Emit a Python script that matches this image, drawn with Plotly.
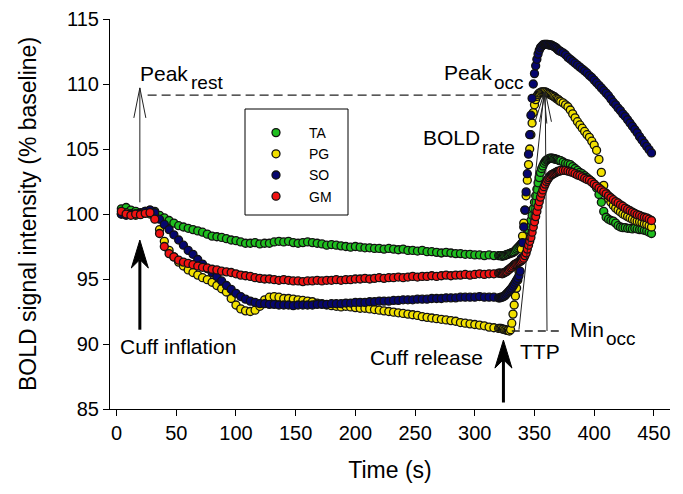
import math
import plotly.graph_objects as go

# ---------------- data ----------------
TIME = list(range(4, 321, 4)) + list(range(321, 373)) + list(range(374, 449, 2))

TA = [
    100.4, 100.5, 100.3, 100.2, 100.1, 100.2, 100.3, 100.2, 99.9, 99.7,
    99.5, 99.3, 99.1, 99.0, 98.9, 98.8, 98.7, 98.6, 98.45, 98.3,
    98.25, 98.2, 98.1, 98.0, 97.95, 97.85, 97.75, 97.75, 97.8, 97.7,
    97.75, 97.75, 97.85, 97.9, 97.85, 97.9, 97.8, 97.75, 97.8, 97.85,
    97.8, 97.75, 97.7, 97.6, 97.65, 97.6, 97.55, 97.5, 97.45, 97.5,
    97.45, 97.4, 97.4, 97.35, 97.35, 97.3, 97.35, 97.3, 97.25, 97.3,
    97.2, 97.2, 97.15, 97.2, 97.1, 97.1, 97.05, 97.0, 97.05, 97.0,
    96.95, 96.95, 96.9, 96.9, 96.85, 96.85, 96.8, 96.85, 96.8, 96.8,
    96.8, 96.8, 96.75, 96.8, 96.8, 96.85, 96.9, 96.9, 96.95, 97.0,
    97.0, 97.05, 97.1, 97.2, 97.3, 97.4, 97.5, 97.6, 97.7, 97.8,
    97.9, 98.0, 98.2, 98.5, 98.8, 99.1, 99.5, 99.9, 100.4, 100.9,
    101.4, 101.9, 102.4, 102.8, 103.2, 103.5, 103.7, 103.9, 104.05, 104.15,
    104.2, 104.25, 104.3, 104.3, 104.3, 104.25, 104.25, 104.2, 104.2, 104.15,
    104.1, 104.1,
    104.0, 103.9, 103.85, 103.8, 103.65, 103.5, 103.35, 103.2, 103.1, 102.95,
    102.8, 102.65, 102.5, 102.3, 102.0, 101.5, 100.9, 100.2, 99.75, 99.6,
    99.5, 99.45, 99.3, 99.1, 99.0, 98.95, 98.95, 98.9, 98.9, 98.85,
    98.9, 98.85, 98.8, 98.8, 98.75, 98.7, 98.6, 98.5,
]

PG = [
    100.0, 100.1, 100.0, 99.9, 100.0, 100.1, 100.0, 99.8, 98.8, 97.9,
    97.2, 96.7, 96.3, 96.0, 95.7, 95.5, 95.3, 95.1, 94.95, 94.75,
    94.5, 94.25, 94.0, 93.5, 93.0, 92.7, 92.55, 92.5, 92.6, 92.9,
    93.4, 93.6, 93.65, 93.6, 93.5, 93.5, 93.45, 93.4, 93.35, 93.3,
    93.25, 93.15, 93.1, 93.0, 92.95, 92.9, 92.85, 92.9, 92.85, 92.8,
    92.75, 92.75, 92.7, 92.65, 92.6, 92.55, 92.5, 92.45, 92.4, 92.35,
    92.3, 92.25, 92.2, 92.1, 92.05, 92.0, 91.95, 91.9, 91.85, 91.8,
    91.75, 91.65, 91.6, 91.55, 91.5, 91.45, 91.4, 91.3, 91.25, 91.2,
    91.2, 91.2, 91.15, 91.15, 91.1, 91.1, 91.05, 91.05, 91.0, 91.1,
    91.6, 92.3, 93.0, 93.7, 94.3, 94.9, 95.6, 96.4, 97.3, 98.3,
    99.3, 100.3, 101.4, 102.6, 103.8, 105.0, 106.1, 107.0, 107.8, 108.4,
    108.8, 109.05, 109.2, 109.3, 109.35, 109.4, 109.4, 109.4, 109.4, 109.35,
    109.3, 109.25, 109.2, 109.15, 109.1, 109.05, 109.0, 108.9, 108.85, 108.8,
    108.7, 108.65,
    108.55, 108.4, 108.25, 108.0, 107.7, 107.4, 107.1, 106.85, 106.6, 106.35,
    106.1, 105.9, 105.6, 105.3, 104.9, 104.2, 103.2, 102.2, 101.6, 101.2,
    100.9, 100.65, 100.45, 100.3, 100.15, 100.0, 99.9, 99.8, 99.7, 99.6,
    99.5, 99.45, 99.4, 99.35, 99.25, 99.2, 99.1, 99.0,
]

SO = [
    100.0, 99.9, 100.0, 100.0, 100.05, 100.2, 100.3, 100.1, 99.6, 99.2,
    98.8, 98.4, 98.0, 97.6, 97.2, 96.9, 96.5, 96.15, 95.8, 95.5,
    95.2, 94.85, 94.5, 94.2, 93.9, 93.65, 93.45, 93.3, 93.2, 93.1,
    93.1, 93.05, 93.05, 93.0, 93.0, 93.0, 92.95, 93.0, 93.0, 93.0,
    93.0, 93.05, 93.05, 93.05, 93.1, 93.1, 93.1, 93.15, 93.15, 93.2,
    93.2, 93.2, 93.25, 93.25, 93.3, 93.3, 93.3, 93.35, 93.35, 93.4,
    93.4, 93.4, 93.45, 93.45, 93.45, 93.5, 93.5, 93.5, 93.55, 93.55,
    93.55, 93.6, 93.6, 93.6, 93.6, 93.65, 93.6, 93.6, 93.6, 93.55,
    93.55, 93.6, 93.6, 93.65, 93.7, 93.8, 93.9, 94.0, 94.1, 94.2,
    94.3, 94.45, 94.6, 94.75, 94.9, 95.05, 95.25, 95.6, 96.6, 97.8,
    99.0, 100.3, 101.7, 103.1, 104.6, 106.1, 107.6, 108.9, 110.0, 110.8,
    111.4, 111.9, 112.3, 112.6, 112.8, 112.9, 113.0, 113.05, 113.05, 113.05,
    113.05, 113.0, 113.0, 113.0, 112.95, 112.9, 112.85, 112.8, 112.7, 112.6,
    112.55, 112.5,
    112.4, 112.25, 112.05, 111.9, 111.75, 111.6, 111.45, 111.3, 111.15, 111.0,
    110.85, 110.65, 110.5, 110.3, 110.1, 109.9, 109.7, 109.5, 109.3, 109.1,
    108.85, 108.6, 108.4, 108.15, 107.95, 107.7, 107.5, 107.25, 107.0, 106.75,
    106.5, 106.25, 105.95, 105.7, 105.45, 105.2, 104.95, 104.7,
]

GM = [
    100.2, 100.0, 99.9, 100.0, 99.95, 100.05, 100.1, 99.6, 98.5, 97.5,
    96.95, 96.7, 96.45, 96.3, 96.2, 96.1, 96.0, 95.9, 95.85, 95.75,
    95.7, 95.6, 95.55, 95.5, 95.4, 95.3, 95.25, 95.2, 95.1, 95.05,
    95.0, 95.0, 94.95, 94.9, 94.95, 94.9, 94.85, 94.85, 94.8, 94.85,
    94.85, 94.9, 94.85, 94.9, 94.9, 94.95, 94.9, 94.95, 94.95, 95.0,
    95.0, 95.05, 95.0, 95.05, 95.1, 95.05, 95.1, 95.1, 95.15, 95.1,
    95.15, 95.2, 95.15, 95.2, 95.2, 95.25, 95.2, 95.25, 95.3, 95.25,
    95.3, 95.3, 95.35, 95.3, 95.35, 95.4, 95.35, 95.4, 95.4, 95.45,
    95.45, 95.45, 95.4, 95.45, 95.5, 95.55, 95.6, 95.7, 95.75, 95.85,
    95.9, 96.0, 96.1, 96.15, 96.2, 96.25, 96.3, 96.35, 96.4, 96.5,
    96.6, 96.8, 97.0, 97.3, 97.6, 97.9, 98.2, 98.6, 99.0, 99.4,
    99.8, 100.2, 100.6, 100.95, 101.3, 101.6, 101.85, 102.1, 102.3, 102.5,
    102.65, 102.8, 102.9, 103.0, 103.05, 103.1, 103.15, 103.2, 103.25, 103.3,
    103.3, 103.35,
    103.35, 103.35, 103.3, 103.25, 103.2, 103.1, 103.0, 102.95, 102.85, 102.75,
    102.65, 102.6, 102.45, 102.3, 102.15, 102.0, 101.85, 101.7, 101.55, 101.4,
    101.25, 101.1, 100.95, 100.85, 100.7, 100.6, 100.45, 100.35, 100.25, 100.15,
    100.05, 99.95, 99.9, 99.8, 99.75, 99.7, 99.6, 99.5,
]

SERIES_NAMES = ["TA", "PG", "SO", "GM"]
SERIES_COLORS = ["#1fbe1f", "#f2e000", "#06066e", "#f01212"]

X_TICKS = [0, 50, 100, 150, 200, 250, 300, 350, 400, 450]
Y_TICKS = [85, 90, 95, 100, 105, 110, 115]

# annotation anchors (data units)
CUFF_INFLATION_T = 19.5
CUFF_RELEASE_T = 324.0
PEAK_REST_V = 109.15
MIN_OCC_V = 91.0
PEAK_OCC_T = 359.5
PEAK_OCC_V = 109.4
TTP_START_T = 337.0

# ---------------- geometry ----------------
PAGE_OFFSET = 8                     # default body margin of the html page
PLOT_LEFT, PLOT_TOP, PLOT_RIGHT, PLOT_BOTTOM = 110, 19, 670, 409   # target px in window
W, H = 683 - PAGE_OFFSET, 494 - PAGE_OFFSET
MARGIN = dict(l=PLOT_LEFT - PAGE_OFFSET, t=PLOT_TOP - PAGE_OFFSET,
              r=W + PAGE_OFFSET - PLOT_RIGHT, b=H + PAGE_OFFSET - PLOT_BOTTOM)
X_RANGE = [-5.5, 463.5]
Y_RANGE = [85, 115]
PLOT_W = PLOT_RIGHT - PLOT_LEFT
PLOT_H = PLOT_BOTTOM - PLOT_TOP
PX_T = PLOT_W / (X_RANGE[1] - X_RANGE[0])
PX_V = PLOT_H / (Y_RANGE[1] - Y_RANGE[0])

FONT = "Liberation Sans, Arial, sans-serif"


def _px(p):
    return p[0] * PX_T, p[1] * PX_V


def _dt(X, Y):
    return X / PX_T, Y / PX_V


def _paper_x(px):
    return (px - PLOT_LEFT) / PLOT_W


def _paper_y(py):
    return 1 - (py - PLOT_TOP) / PLOT_H


def _head(tail, tip, length, half, notch=None):
    tx, ty = _px(tail)
    hx, hy = _px(tip)
    d = math.hypot(hx - tx, hy - ty)
    ux, uy = (hx - tx) / d, (hy - ty) / d
    nx, ny = -uy, ux
    bx, by = hx - ux * length, hy - uy * length
    L = _dt(bx + nx * half, by + ny * half)
    R = _dt(bx - nx * half, by - ny * half)
    if notch is None:
        return f"M{L[0]},{L[1]} L{tip[0]},{tip[1]} L{R[0]},{R[1]}", tip
    N = _dt(hx - ux * length * (1 - notch), hy - uy * length * (1 - notch))
    return (f"M{tip[0]},{tip[1]} L{L[0]},{L[1]} L{N[0]},{N[1]} L{R[0]},{R[1]} Z", N)


shapes = []


def thin_arrow(tail, tip):
    path, _ = _head(tail, tip, 30, 6)
    shapes.append(dict(type="line", xref="x", yref="y", x0=tail[0], y0=tail[1],
                       x1=tip[0], y1=tip[1], line=dict(color="#222", width=1)))
    shapes.append(dict(type="path", xref="x", yref="y", path=path,
                       line=dict(color="#222", width=1)))


def thick_arrow(tail, tip):
    path, neck = _head(tail, tip, 28, 8.5, notch=0.3)
    shapes.append(dict(type="line", xref="x", yref="y", x0=tail[0], y0=tail[1],
                       x1=neck[0], y1=neck[1], line=dict(color="black", width=3)))
    shapes.append(dict(type="path", xref="x", yref="y", path=path,
                       fillcolor="black", line=dict(color="black", width=1)))


# dashed reference levels
shapes.append(dict(type="line", xref="x", yref="y", x0=26, x1=340,
                   y0=PEAK_REST_V, y1=PEAK_REST_V,
                   line=dict(color="#222", width=1.3, dash="9px,5px")))
shapes.append(dict(type="line", xref="x", yref="y", x0=331, x1=374,
                   y0=MIN_OCC_V, y1=MIN_OCC_V,
                   line=dict(color="#222", width=1.3, dash="8px,5px")))

# thin arrows
thin_arrow((CUFF_INFLATION_T, 100.9), (CUFF_INFLATION_T, 109.7))
thin_arrow((PEAK_OCC_T + 1, MIN_OCC_V), (PEAK_OCC_T - 0.5, PEAK_OCC_V))
thin_arrow((TTP_START_T, MIN_OCC_V + 0.1), (PEAK_OCC_T - 1.5, PEAK_OCC_V - 0.1))

# thick arrows
thick_arrow((CUFF_INFLATION_T, 91.1), (CUFF_INFLATION_T, 98.0))
thick_arrow((CUFF_RELEASE_T, 85.5), (CUFF_RELEASE_T, 90.3))

# legend frame
LEGEND_BOX = (245, 109, 348, 215)  # px in window: left, top, right, bottom
shapes.append(dict(type="rect", xref="paper", yref="paper",
                   x0=_paper_x(LEGEND_BOX[0]), x1=_paper_x(LEGEND_BOX[2]),
                   y0=_paper_y(LEGEND_BOX[3]), y1=_paper_y(LEGEND_BOX[1]),
                   line=dict(color="black", width=1), fillcolor="white",
                   layer="above"))

fig = go.Figure()
for name, color, vals in zip(SERIES_NAMES, SERIES_COLORS, [TA, PG, SO, GM]):
    fig.add_trace(go.Scatter(
        x=TIME, y=vals, name=name, mode="markers",
        marker=dict(size=8, color=color, line=dict(color="#111111", width=1.3)),
    ))

TXT = dict(family=FONT, size=21, color="black")
SUB = dict(family=FONT, size=19, color="black")


def text(x, y, s, xanchor, font=TXT, xshift=0):
    return dict(x=x, y=y, xref="x", yref="y", text=s, showarrow=False,
                xanchor=xanchor, yanchor="middle", font=font, xshift=xshift)


annotations = [
    text(1.2, 89.77, "Cuff inflation", "left"),
    text(308.6, 89.0, "Cuff release", "right"),
    text(336.2, 89.4, "TTP", "left"),
    text(61.5, 110.77, "Peak", "right"),
    text(61.5, 110.15, "rest", "left", SUB, -1),
    text(315.7, 110.85, "Peak", "right"),
    text(315.7, 110.15, "occ", "left", SUB, -2),
    text(306.4, 105.85, "BOLD", "right"),
    text(306.4, 105.15, "rate", "left", SUB, -2),
    text(409.5, 91.08, "Min", "right"),
    text(409.5, 90.46, "occ", "left", SUB, -2),
]

fig.update_layout(
    width=W, height=H, margin=MARGIN,
    paper_bgcolor="white", plot_bgcolor="white",
    font=dict(family=FONT, color="black"),
    shapes=shapes, annotations=annotations,
    showlegend=True,
    legend=dict(x=_paper_x(243), y=_paper_y(117),
                xanchor="left", yanchor="top",
                borderwidth=0, bgcolor="rgba(0,0,0,0)",
                font=dict(family=FONT, size=14, color="black"),
                itemwidth=56, tracegroupgap=0),
    xaxis=dict(range=X_RANGE, tickvals=X_TICKS, showgrid=False, zeroline=False,
               automargin=False,
               showline=True, linecolor="black", linewidth=1,
               ticks="outside", ticklen=6, tickwidth=1, tickcolor="black",
               tickfont=dict(family=FONT, size=20, color="black"),
               title=dict(text="Time (s)", standoff=18,
                          font=dict(family=FONT, size=23, color="black"))),
    yaxis=dict(range=Y_RANGE, tickvals=Y_TICKS, showgrid=False, zeroline=False,
               automargin=False,
               showline=True, linecolor="black", linewidth=1,
               ticks="outside", ticklen=6, tickwidth=1, tickcolor="black",
               tickfont=dict(family=FONT, size=20, color="black"),
               title=dict(text="BOLD signal intensity (% baseline)", standoff=22,
                          font=dict(family=FONT, size=23, color="black"))),
)

fig.write_html("out.html")
